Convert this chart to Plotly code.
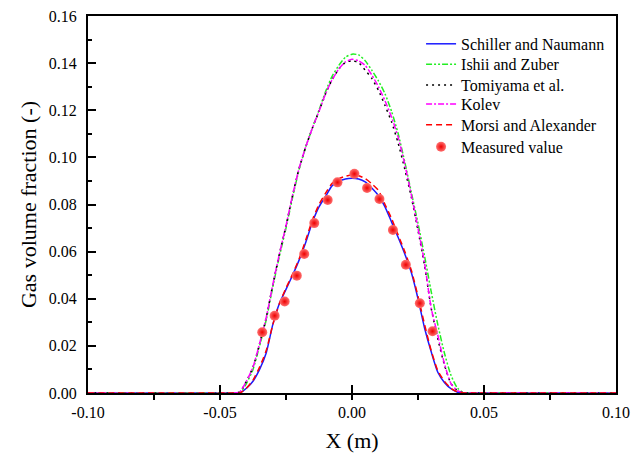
import plotly.graph_objects as go

# ---- data ----
x_grid = [-0.10, -0.045, -0.0425, -0.04, -0.0375, -0.035, -0.0325, -0.03, -0.0275, -0.025,
          -0.0225, -0.02, -0.0175, -0.015, -0.0125, -0.01, -0.0075, -0.005, -0.0025, 0.0,
          0.0025, 0.005, 0.0075, 0.01, 0.0125, 0.015, 0.0175, 0.02, 0.0225, 0.025,
          0.0275, 0.03, 0.0325, 0.035, 0.0375, 0.04, 0.0425, 0.045, 0.10]

schiller = [0, 0, 0, 0.002, 0.005, 0.010, 0.017, 0.029, 0.038, 0.044,
            0.050, 0.0565, 0.064, 0.0725, 0.079, 0.0835, 0.088, 0.0898, 0.0908, 0.0911,
            0.0908, 0.0896, 0.087, 0.0838, 0.079, 0.0725, 0.066, 0.059, 0.051, 0.040,
            0.0275, 0.0175, 0.0088, 0.0045, 0.0018, 0.0003, 0, 0, 0]

ishii = [0, 0, 0, 0.004, 0.010, 0.020, 0.031, 0.045, 0.058, 0.070,
         0.083, 0.095, 0.1045, 0.1125, 0.120, 0.128, 0.1345, 0.139, 0.1425, 0.1438,
         0.1435, 0.141, 0.137, 0.1325, 0.127, 0.1195, 0.110, 0.098, 0.085, 0.072,
         0.058, 0.043, 0.029, 0.017, 0.0075, 0.002, 0, 0, 0]

tomiyama = [0, 0, 0.0005, 0.005, 0.011, 0.021, 0.032, 0.046, 0.059, 0.071,
            0.084, 0.0955, 0.1045, 0.1125, 0.1195, 0.127, 0.133, 0.1375, 0.1403, 0.141,
            0.1402, 0.137, 0.1335, 0.1285, 0.122, 0.115, 0.106, 0.095, 0.083, 0.069,
            0.054, 0.036, 0.023, 0.012, 0.004, 0.001, 0, 0, 0]

kolev = [0, 0, 0.0005, 0.005, 0.011, 0.021, 0.032, 0.046, 0.059, 0.071,
         0.084, 0.0955, 0.1045, 0.1125, 0.1195, 0.127, 0.133, 0.1375, 0.1405, 0.1416,
         0.141, 0.139, 0.135, 0.130, 0.124, 0.117, 0.1085, 0.097, 0.084, 0.070,
         0.055, 0.036, 0.0245, 0.0125, 0.004, 0.001, 0, 0, 0]

morsi = [0, 0, 0, 0.002, 0.0055, 0.011, 0.018, 0.029, 0.038, 0.0445,
         0.0505, 0.057, 0.065, 0.0735, 0.080, 0.0848, 0.089, 0.091, 0.092, 0.0925,
         0.0922, 0.091, 0.0888, 0.086, 0.080, 0.074, 0.067, 0.060, 0.052, 0.041,
         0.029, 0.018, 0.0095, 0.005, 0.002, 0.0005, 0, 0, 0]

meas_x = [-0.0340, -0.0293, -0.0255, -0.0209, -0.0181, -0.0143, -0.0092, -0.0055,
          0.0009, 0.0057, 0.0104, 0.0155, 0.0204, 0.0257, 0.0305]
meas_y = [0.0258, 0.0328, 0.0388, 0.0498, 0.0590, 0.0721, 0.0819, 0.0894,
          0.0930, 0.0870, 0.0823, 0.0692, 0.0544, 0.0381, 0.0262]

x_ticks = [-0.10, -0.05, 0.00, 0.05, 0.10]
x_tick_text = ["-0.10", "-0.05", "0.00", "0.05", "0.10"]
y_ticks = [0.00, 0.02, 0.04, 0.06, 0.08, 0.10, 0.12, 0.14, 0.16]
y_tick_text = ["0.00", "0.02", "0.04", "0.06", "0.08", "0.10", "0.12", "0.14", "0.16"]

FONT = "Liberation Serif"

# legend rows (paper y of each row centre)
legend_rows = [0.926, 0.872, 0.817, 0.766, 0.711, 0.653]
legend_ids = ["legend", "legend2", "legend3", "legend4", "legend5", "legend6"]

fig = go.Figure()

series = [
    ("Schiller and Naumann", schiller, "#1a1aff", "solid"),
    ("Ishii and Zuber", ishii, "#22ee22", "6px,2px,2px,2px,2px,2px"),
    ("Tomiyama et al.", tomiyama, "#000000", "2px,4px"),
    ("Kolev", kolev, "#ff00ff", "6px,2px,2px,2px"),
    ("Morsi and Alexander", morsi, "#ff0000", "6px,4px"),
]
for i, (name, ys, col, dash) in enumerate(series):
    fig.add_trace(go.Scatter(
        x=x_grid, y=ys, name=name, mode="lines", legend=legend_ids[i],
        line=dict(color=col, width=1.5, dash=dash, shape="spline", smoothing=0.6),
    ))

fig.add_trace(go.Scatter(
    x=meas_x, y=meas_y, name="Measured value", mode="markers", legend=legend_ids[5],
    marker=dict(size=10, color="#ff7070",
                gradient=dict(type="radial", color="#ee0000"),
                line=dict(width=0)),
))

legend_common = dict(x=0.6308, xanchor="left", yanchor="middle",
                     bgcolor="rgba(0,0,0,0)", borderwidth=0,
                     font=dict(family=FONT, size=16, color="black"))
layout_legends = {lid: dict(y=yy, **legend_common) for lid, yy in zip(legend_ids, legend_rows)}

fig.update_layout(
    width=633, height=462,
    margin=dict(l=87.5, r=16.5, t=16, b=69),
    plot_bgcolor="white", paper_bgcolor="white",
    font=dict(family=FONT, size=16, color="black"),
    showlegend=True,
    **layout_legends,
)

fig.update_xaxes(
    range=[-0.10, 0.10], tickvals=x_ticks, ticktext=x_tick_text,
    ticks="inside", ticklen=8, tickwidth=1.5, tickcolor="black",
    minor=dict(ticks="outside", dtick=0.025, tick0=-0.10, ticklen=5, tickwidth=1.5, tickcolor="black"),
    showline=True, linecolor="black", linewidth=2, mirror=True,
    showgrid=False, zeroline=False, automargin=False,
    title=dict(text="X (m)", font=dict(family=FONT, size=22), standoff=12),
    tickfont=dict(family=FONT, size=16),
    ticklabelstandoff=4,
)
fig.update_yaxes(
    range=[0, 0.16], tickvals=y_ticks, ticktext=y_tick_text,
    ticks="inside", ticklen=8, tickwidth=1.5, tickcolor="black",
    minor=dict(ticks="inside", dtick=0.01, tick0=0, ticklen=4, tickwidth=1.5, tickcolor="black"),
    showline=True, linecolor="black", linewidth=2, mirror=True,
    showgrid=False, zeroline=False, automargin=False,
    title=dict(text="Gas volume fraction (-)", font=dict(family=FONT, size=22), standoff=6),
    tickfont=dict(family=FONT, size=16),
    ticklabelstandoff=6,
)

fig.write_html("out.html", config={"displayModeBar": False},
               post_script="document.body.style.margin='0px';")
